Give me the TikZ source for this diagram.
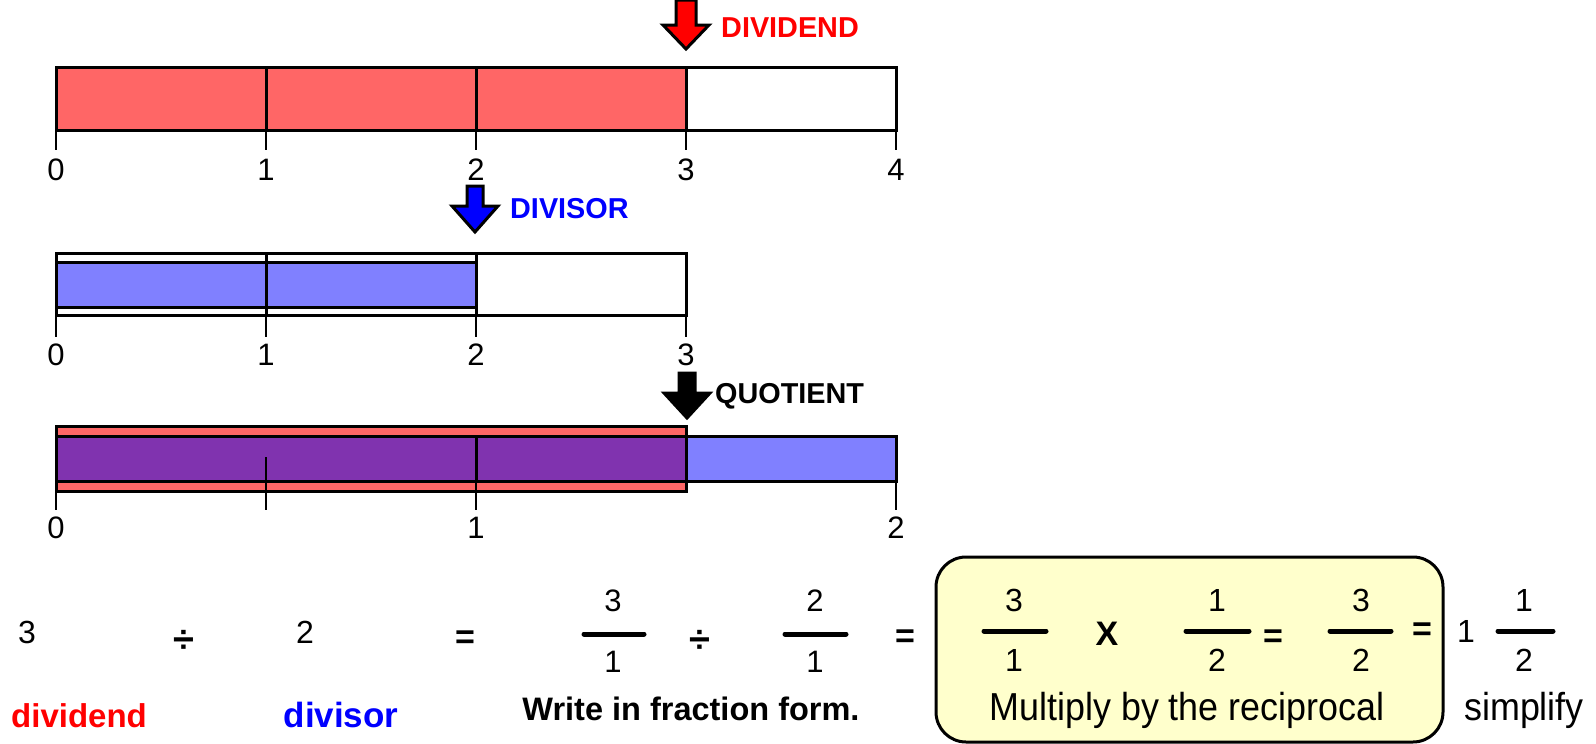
\documentclass[tikz,border=0pt]{standalone}
\usepackage{fontspec}
\setmainfont{Liberation Sans}
\newfontfamily\narrowfont[FakeStretch=0.92]{Liberation Sans}
\definecolor{barred}{RGB}{255,102,102}
\definecolor{barblue}{RGB}{128,128,255}
\definecolor{overlap}{RGB}{128,51,175}
\definecolor{boxyellow}{RGB}{255,255,204}
\definecolor{markred}{RGB}{255,0,0}
\definecolor{markblue}{RGB}{0,0,255}

% downward block arrow: x, top, head start, tip, shaft half width, head half width, colour
\newcommand\blockdown[7]{%
  \filldraw[fill=#7, line width=3pt, line join=miter]
    ({#1-#5},#2) -- ({#1+#5},#2) -- ({#1+#5},#3) -- ({#1+#6},#3) -- (#1,#4)
    -- ({#1-#6},#3) -- ({#1-#5},#3) -- cycle;}

\begin{document}
\begin{tikzpicture}[x=1pt,y=-1pt,
  barline/.style={line width=3pt},
  tickline/.style={line width=2pt},
  numlabel/.style={font=\fontsize{31}{36}\selectfont, inner sep=0pt},
  marklabel/.style={font=\fontsize{28.8}{32}\selectfont\bfseries, inner sep=0pt, anchor=base west},
  eqnum/.style={font=\fontsize{31}{36}\selectfont, inner sep=0pt},
  boxnum/.style={font=\fontsize{32}{36}\selectfont, inner sep=0pt},
  eqop/.style={font=\fontsize{34}{38}\selectfont\bfseries, inner sep=0pt},
  divsign/.style={font=\fontsize{38}{40}\selectfont\bfseries, inner sep=0pt},
  fracbar/.style={line width=5pt, line cap=round},
  caption/.style={inner sep=0pt, anchor=base}]
\useasboundingbox (0,0) rectangle (1596,744);

% ---- dividend bar: 3 of 4 units
\filldraw[fill=barred, barline] (56,67) rectangle (686,130);
\draw[barline] (686,67) rectangle (896,130);
\foreach \x in {266,476} \draw[barline] (\x,67) -- (\x,130);
\foreach \x/\l in {56/0,266/1,476/2,686/3,896/4} {
  \draw[tickline] (\x,130) -- (\x,150);
  \node[numlabel] (da\l) at (\x,170) {\l};
}
\blockdown{686}{0}{25}{49}{10}{23}{markred}
\node[marklabel, text=markred] (dividendmark) at (721,37) {DIVIDEND};

% ---- divisor bar: 2 of 3 units
\draw[barline] (56,253) rectangle (686,315);
\filldraw[fill=barblue, barline] (56,262) rectangle (476,307);
\foreach \x in {266,476} \draw[barline] (\x,253) -- (\x,315);
\foreach \x/\l in {56/0,266/1,476/2,686/3} {
  \draw[tickline] (\x,315) -- (\x,337);
  \node[numlabel] (db\l) at (\x,355) {\l};
}
\blockdown{475}{186}{206}{232}{8}{23}{markblue}
\node[marklabel, text=markblue] (divisormark) at (510,218) {DIVISOR};

% ---- quotient bar: dividend laid over divisor units
\filldraw[fill=barred, barline] (56,426) rectangle (686,491);
\fill[barblue] (56,436) rectangle (896,481);
\fill[overlap] (56,436) rectangle (686,481);
\draw[barline] (56,436) rectangle (896,481);
\draw[barline] (686,426) -- (686,491);
\draw[barline] (476,436) -- (476,481);
\draw[tickline] (266,457) -- (266,510);
\draw[tickline] (476,481) -- (476,510);
\draw[tickline] (56,491) -- (56,510);
\draw[tickline] (896,481) -- (896,510);
\foreach \x/\l in {56/0,476/1,896/2}
  \node[numlabel] (dc\l) at (\x,528) {\l};
\blockdown{687}{373}{393}{418}{8}{23}{black}
\node[marklabel] (quotientmark) at (715,403) {QUOTIENT};

% ---- written computation
\node[eqnum, font=\fontsize{32}{36}\selectfont] (n3) at (27,632) {3};
\node[divsign] (divop1) at (184,641) {÷};
\node[eqnum, font=\fontsize{32}{36}\selectfont] (n2) at (305,632) {2};
\node[eqop] (eq1) at (465,640) {=};
\node[caption, font=\fontsize{33}{38}\selectfont\bfseries, text=markred] (lbldividend) at (79,727) {dividend};
\node[caption, font=\fontsize{35}{38}\selectfont\bfseries, text=markblue] (lbldivisor) at (341,727) {divisor};

% fraction form
\node[eqnum] (f1n) at (613,601) {3};
\draw[fracbar] (584,634) -- (644,634);
\node[eqnum] (f1d) at (613,662) {1};
\node[divsign] (divop2) at (700,641) {÷};
\node[eqnum] (f2n) at (815,601) {2};
\draw[fracbar] (785,634) -- (846,634);
\node[eqnum] (f2d) at (815,662) {1};
\node[eqop] (eq2) at (905,639) {=};
\node[caption, font=\fontsize{32.5}{36}\selectfont\bfseries] (lblwrite) at (691,720) {Write in fraction form.};

% reciprocal step
\draw[line width=3pt, fill=boxyellow, rounded corners=30pt] (936,557) rectangle (1443,742);
\node[boxnum] (g1n) at (1014,600) {3};
\draw[fracbar] (984,631) -- (1046,631);
\node[boxnum] (g1d) at (1014,660) {1};
\node[eqop] (times) at (1107,634) {X};
\node[boxnum] (g2n) at (1217,600) {1};
\draw[fracbar] (1186,631) -- (1249,631);
\node[boxnum] (g2d) at (1217,660) {2};
\node[eqop] (eq3) at (1273,639) {=};
\node[boxnum] (g3n) at (1361,600) {3};
\draw[fracbar] (1330,631) -- (1391,631);
\node[boxnum] (g3d) at (1361,660) {2};
\node[eqop] (eq4) at (1422,632) {=};
\node[caption, font=\narrowfont\fontsize{39}{42}\selectfont] (lblrecip) at (1187,720) {Multiply by the reciprocal};

% simplified mixed number
\node[boxnum] (whole) at (1466,631) {1};
\node[boxnum] (h1n) at (1524,600) {1};
\draw[fracbar] (1498,631) -- (1553,631);
\node[boxnum] (h1d) at (1524,660) {2};
\node[caption, font=\narrowfont\fontsize{39}{42}\selectfont] (lblsimplify) at (1524,720) {simplify};
\end{tikzpicture}
\end{document}
